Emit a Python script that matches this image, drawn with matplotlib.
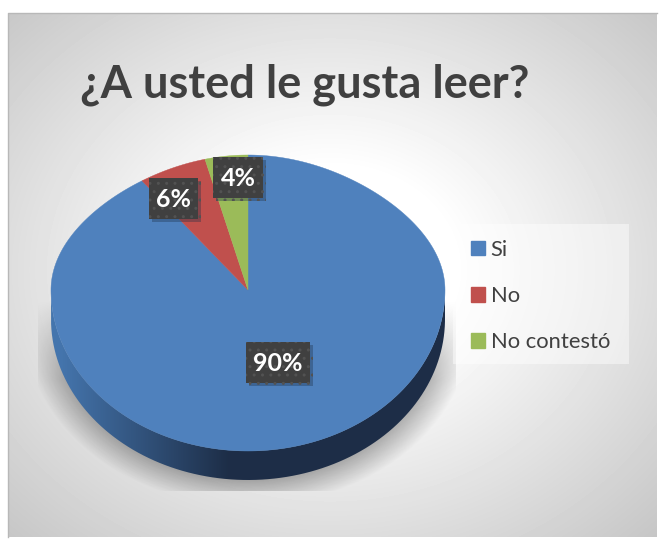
import numpy as np
import matplotlib
matplotlib.use("Agg")
import matplotlib.pyplot as plt
from matplotlib.patches import Rectangle, PathPatch, Patch
from matplotlib.path import Path
from matplotlib import patheffects as pe

title = "¿A usted le gusta leer?"
categories = ["Si", "No", "No contestó"]
values = [90, 6, 4]
colors = ["#4f81bd", "#c0504d", "#9bbb59"]

W, H = 659, 548
plt.rcParams["font.family"] = ["Lato", "DejaVu Sans"]
plt.rcParams["hatch.linewidth"] = 1.0

fig = plt.figure(figsize=(W / 100, H / 100), dpi=100)
ax = fig.add_axes([0, 0, 1, 1])
ax.set_xlim(0, W)
ax.set_ylim(H, 0)
ax.axis("off")

# fondo degradado
L, R, T, B = 8, 657, 13, 537
xx, yy = np.meshgrid(np.arange(L, R) + 0.5, np.arange(T, B) + 0.5)
d = np.hypot((xx - 330) / 330, (yy - 270) / 270)
bg = 255 - 58 * np.clip((d - 0.38) / 1.03, 0, 1)
ax.imshow(bg, extent=(L, R, B, T), cmap="gray", vmin=0, vmax=255, aspect="auto", zorder=0)
ax.plot([L, L, R], [B, T, T], color="#b8b8b8", lw=1, zorder=1)

# geometria de la torta
cx, cy = 248, 290
rx, ry_up, ry_down = 197, 135, 161
depth = 29


def warp(a):
    # angulo medido desde arriba en sentido horario, con algo de perspectiva
    c = np.cos(a)
    px = cx + rx * np.sin(a) * (1 - 0.13 * np.clip(c, 0, 1) ** 2)
    py = cy - np.where(c > 0, ry_up, ry_down) * c
    return px, py


# sombra
sx0, sx1, sy1 = 38, 456, 491
sxx, syy = np.meshgrid(np.arange(sx0, sx1) + 0.5, np.arange(290, sy1) + 0.5)
sd = np.hypot((sxx - cx) / (rx + 8), (syy - (cy + 36)) / (ry_down + 4))
sa = np.clip((1.09 - sd) / 0.16, 0, 1) * 0.3 * np.clip((syy - 300) / 80, 0, 1)
rgba = np.zeros(sa.shape + (4,))
rgba[..., 3] = sa
ax.imshow(rgba, extent=(sx0, sx1, sy1, 290), aspect="auto", zorder=2)

# lado de la torta con degradado
a = np.linspace(np.pi / 2, 3 * np.pi / 2, 200)
px, py = warp(a)
side = np.vstack([np.column_stack([px, py]), np.column_stack([px[::-1], py[::-1] + depth])])
grad_x = np.linspace(0, 1, 400)
c0, c1 = np.array([0.27, 0.46, 0.68]), np.array([0.115, 0.18, 0.28])
t = np.clip((grad_x - 0.02) / 0.43, 0, 1)[None, :, None]
grad = c0 + (c1 - c0) * t
im = ax.imshow(grad, extent=(cx - rx, cx + rx, cy + ry_down + depth, cy), aspect="auto", zorder=3)
clip = PathPatch(Path(side, closed=False), transform=ax.transData, fc="none", ec="none")
ax.add_patch(clip)
im.set_clip_path(clip)

# porciones
cuts = np.cumsum([0] + values) / sum(values) * 2 * np.pi
for v0, v1, col in zip(cuts[:-1], cuts[1:], colors):
    a = np.linspace(v0, v1, 300)
    px, py = warp(a)
    ax.fill(np.r_[cx, px], np.r_[cy, py], color=col, lw=0.3, zorder=4)

# etiquetas
boxes = [(246, 342, 64, 41), (149, 178, 49, 41), (213, 157, 50, 41)]
for (bx, by, bw, bh), v in zip(boxes, values):
    ax.add_patch(Rectangle((bx, by), bw, bh, fc="#404040", ec="#525252", hatch="..", lw=0, zorder=5,
                           path_effects=[pe.SimplePatchShadow(offset=(2, -2), shadow_rgbFace="#1c2f47", alpha=0.35),
                                         pe.Normal()]))
    ax.text(bx + bw / 2, by + bh / 2 + 1, f"{v}%", color="white", fontsize=18, fontweight="bold",
            ha="center", va="center", zorder=6)

# titulo
ax.text(304.5, 85, title, color="#404040", fontsize=32.5, fontweight="bold", ha="center", va="center", zorder=6)

# leyenda
handles = [Patch(color=c, label=n) for c, n in zip(colors, categories)]
ax.add_patch(Rectangle((453, 224), 176, 140, fc="white", ec="none", alpha=0.45, zorder=4))
leg = ax.legend(handles=handles, loc="upper left", bbox_to_anchor=(451 / W, 1 - 220 / H), frameon=False,
                fontsize=15.8, labelspacing=1.2, handlelength=0.64, handleheight=0.64, handletextpad=0.27,
                labelcolor="#404040")
leg.set_zorder(6)

fig.savefig("out.png", dpi=100)
